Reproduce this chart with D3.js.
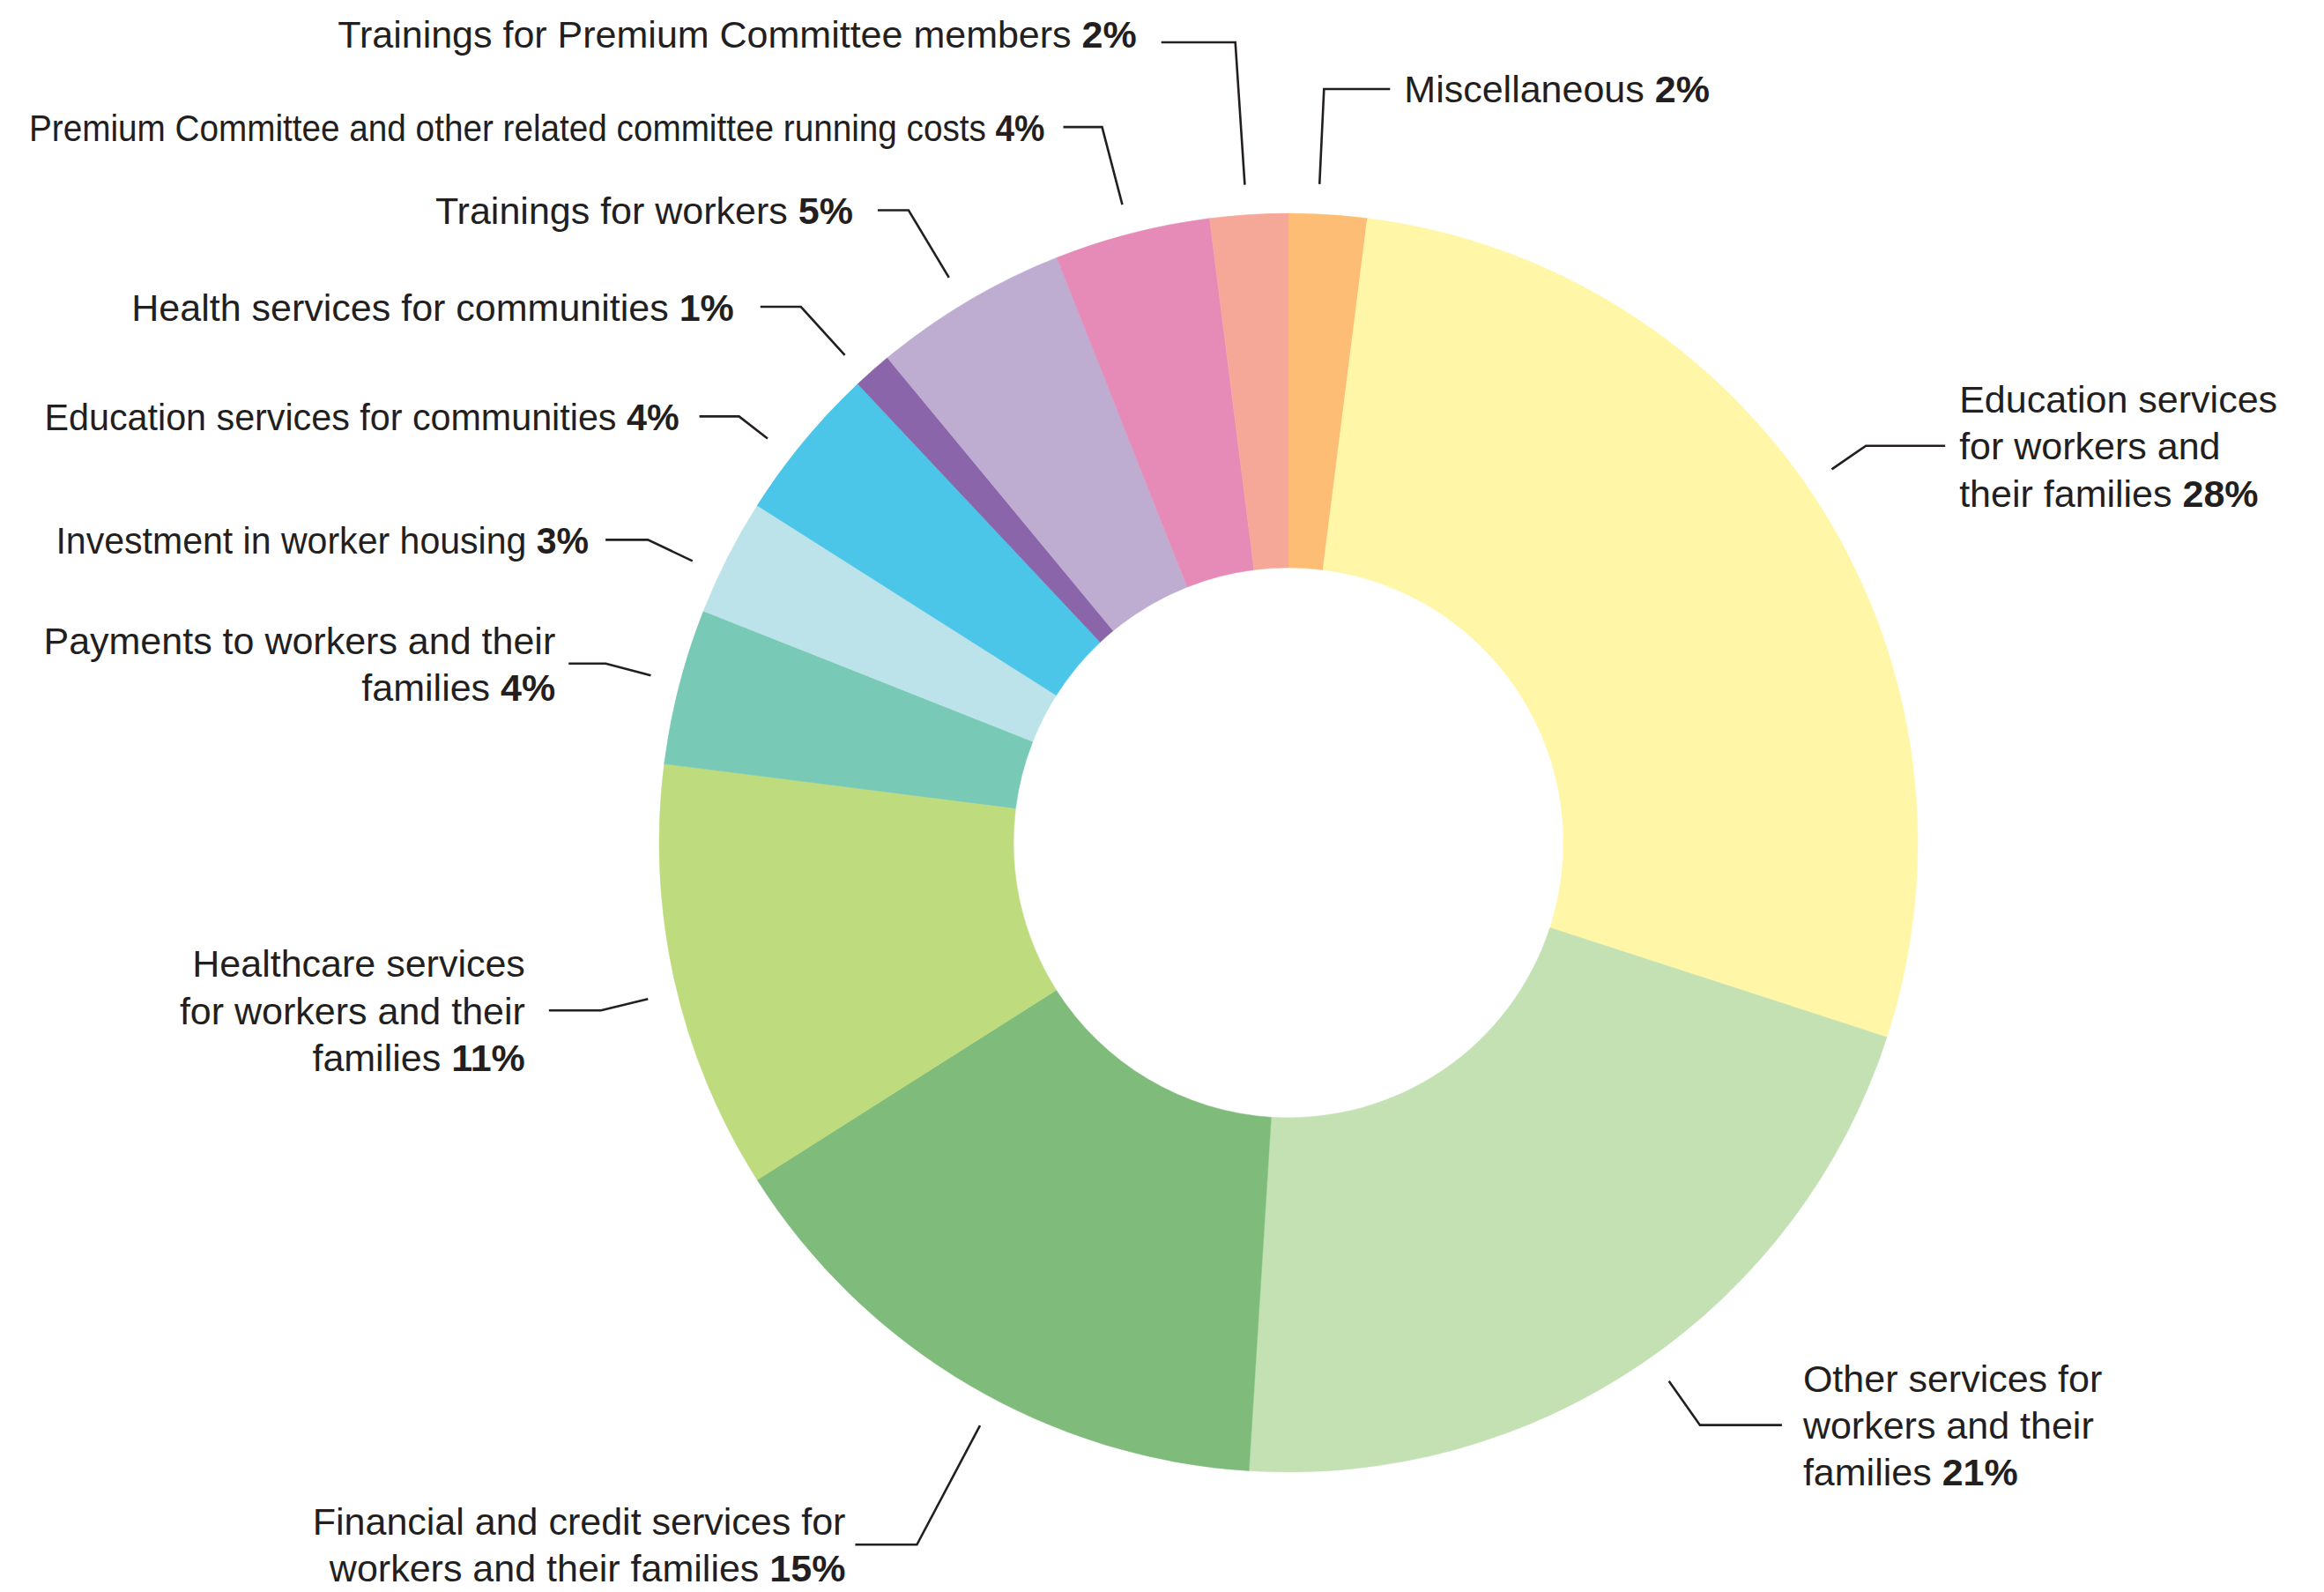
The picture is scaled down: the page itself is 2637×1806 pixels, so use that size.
<!DOCTYPE html>
<html>
<head>
<meta charset="utf-8">
<script src="https://cdn.jsdelivr.net/npm/d3@7"></script>
<style>
  html, body { margin: 0; padding: 0; background: #ffffff; }
  svg { display: block; }
  text { font-family: "Liberation Sans", Arial, Helvetica, sans-serif; fill: #231f20; }
</style>
</head>
<body>
<svg id="chart" width="2637" height="1806"></svg>
<script>
// ---- DATA ----
const categories = [
  "Miscellaneous",
  "Education services for workers and their families",
  "Other services for workers and their families",
  "Financial and credit services for workers and their families",
  "Healthcare services for workers and their families",
  "Payments to workers and their families",
  "Investment in worker housing",
  "Education services for communities",
  "Health services for communities",
  "Trainings for workers",
  "Premium Committee and other related committee running costs",
  "Trainings for Premium Committee members"
];
const values = [2, 28, 21, 15, 11, 4, 3, 4, 1, 5, 4, 2];
const valueLabels = ["2%", "28%", "21%", "15%", "11%", "4%", "3%", "4%", "1%", "5%", "4%", "2%"];
const labelLines = [
  ["Miscellaneous"],
  ["Education services", "for workers and", "their families"],
  ["Other services for", "workers and their", "families"],
  ["Financial and credit services for", "workers and their families"],
  ["Healthcare services", "for workers and their", "families"],
  ["Payments to workers and their", "families"],
  ["Investment in worker housing"],
  ["Education services for communities"],
  ["Health services for communities"],
  ["Trainings for workers"],
  ["Premium Committee and other related committee running costs"],
  ["Trainings for Premium Committee members"]
];

// ---- STYLE / LAYOUT ----
const colors = ["#fdbd74", "#fff6a8", "#c3e1b3", "#7fbc7b", "#bedb7e", "#78c9b6",
                "#bbe3e9", "#4bc6e8", "#8b65aa", "#bfacd1", "#e68bb8", "#f5a898"];
// leader layout (annotation placement)
const angleShift = [-0.9, -2.1, -1.05, -2.7, -1.1, 0.3, -1.7, -1.8, -0.9, -0.4, -0.2, -0.2]; // degrees
const elbowR = [856, 795, 809, 901, 803, 801, 804, 789, 822, 837, 839, 910];
const hLen   = [75, 90, 93, 70, 59, 42, 48, 45, 46, 35, 44, 84];
const gap    = [16, 16, 24, 11, 27, 15, 19, 23, 30, 28, 21, 28];
const textDy = [0, 0, 0, 0, 0, 0, 0, 0, 0, 0, 0, -9];
const squeeze = [1, 1, 1, 1, 1, 1, 0.955, 0.96, 1, 1, 0.9, 1];

const cx = 1462, cy = 956;
const outerR = 714, innerR = 312, leaderR = 748;
const fontSize = 43, lineH = 53.3;

const svg = d3.select("#chart");
const g = svg.append("g").attr("transform", `translate(${cx},${cy})`);

const pie = d3.pie().sort(null).value(d => d).startAngle(0).endAngle(2 * Math.PI);
const arcs = pie(values);
const arc = d3.arc().innerRadius(innerR).outerRadius(outerR);

g.selectAll("path.slice")
  .data(arcs)
  .join("path")
  .attr("class", "slice")
  .attr("d", arc)
  .attr("fill", (d, i) => colors[i])
  .attr("stroke", (d, i) => colors[i])
  .attr("stroke-width", 0.5);

arcs.forEach((d, i) => {
  const mid = (d.startAngle + d.endAngle) / 2;
  const a = mid + angleShift[i] * Math.PI / 180;
  const right = mid < Math.PI;
  const shifted = { startAngle: a, endAngle: a };
  const p0 = d3.arc().innerRadius(leaderR).outerRadius(leaderR).centroid(shifted);
  const p1 = d3.arc().innerRadius(elbowR[i]).outerRadius(elbowR[i]).centroid(shifted);
  const p2 = [p1[0] + (right ? hLen[i] : -hLen[i]), p1[1]];

  g.append("path")
    .attr("d", d3.line()([p0, p1, p2]))
    .attr("fill", "none")
    .attr("stroke", "#231f20")
    .attr("stroke-width", 2.6)
    .attr("stroke-linejoin", "miter");

  const tx = p2[0] + (right ? gap[i] : -gap[i]);
  const lines = labelLines[i];
  const n = lines.length;
  const firstCenter = p1[1] - (n - 1) * lineH / 2 + textDy[i];
  const text = g.append("text")
    .attr("text-anchor", right ? "start" : "end")
    .attr("font-size", fontSize);
  lines.forEach((ln, j) => {
    text.append("tspan")
      .attr("x", tx)
      .attr("y", firstCenter + j * lineH + fontSize * 0.36)
      .text(ln);
    if (j === n - 1) {
      text.append("tspan").text(" ");
      text.append("tspan").attr("font-weight", "bold").text(valueLabels[i]);
    }
  });
  if (squeeze[i] !== 1) {
    text.attr("transform", `translate(${tx},0) scale(${squeeze[i]},1) translate(${-tx},0)`);
  }
});
</script>
</body>
</html>
